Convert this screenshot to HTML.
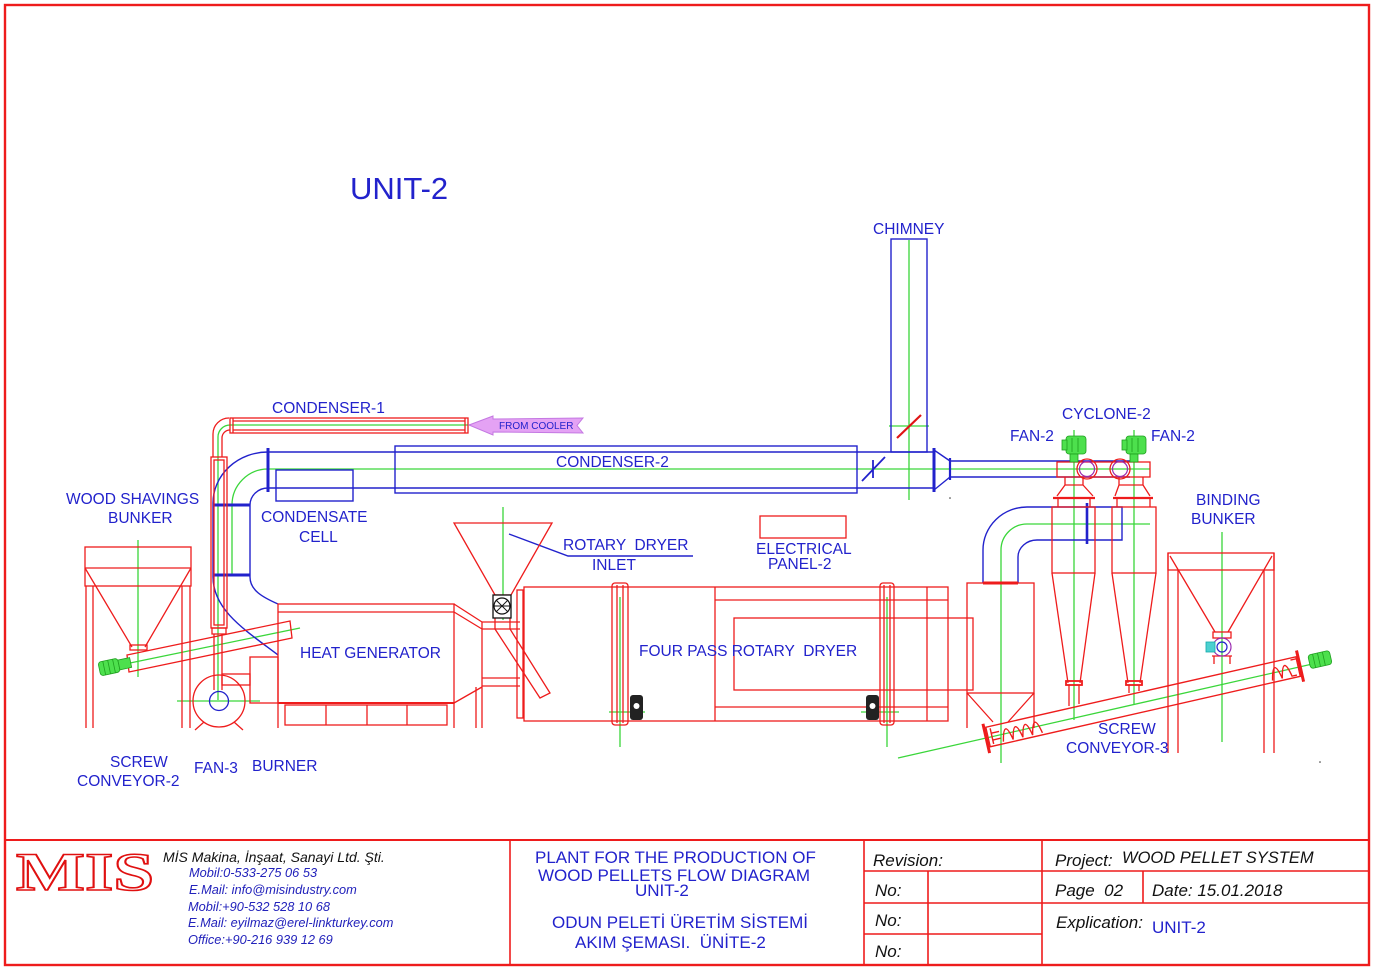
<!DOCTYPE html>
<html><head><meta charset="utf-8"><style>
html,body{margin:0;padding:0;background:#fff;}
svg{display:block;}
text{font-family:"Liberation Sans",Arial,sans-serif;white-space:pre;}
.l{fill:#2222cc;font-size:15.5px;}
.k{fill:#111;font-size:17px;font-style:italic;}
.b{fill:#2222cc;font-size:17px;}
.c{fill:#2222bb;font-size:12.8px;font-style:italic;}
</style></head><body>
<svg width="1376" height="968" viewBox="0 0 1376 968" xmlns="http://www.w3.org/2000/svg">
<rect width="1376" height="968" fill="#fff"/>

<!-- Frame & title block -->
<g fill="none" stroke="#ee1c1c" stroke-width="1.6">
 <rect x="5" y="5" width="1364" height="960" stroke-width="2.4"/>
 <line x1="5" y1="840" x2="1369" y2="840" stroke-width="2"/>
 <line x1="510" y1="840" x2="510" y2="965"/>
 <line x1="864" y1="840" x2="864" y2="965"/>
 <line x1="1042" y1="840" x2="1042" y2="965"/>
 <line x1="864" y1="871" x2="1369" y2="871"/>
 <line x1="864" y1="903" x2="1369" y2="903"/>
 <line x1="864" y1="934" x2="1042" y2="934"/>
 <line x1="928" y1="871" x2="928" y2="965"/>
 <line x1="1143" y1="871" x2="1143" y2="903"/>
</g>

<!-- Logo -->
<text x="16" y="890" textLength="138" lengthAdjust="spacingAndGlyphs" style="font-family:'Liberation Serif',serif;font-weight:bold;font-size:54px;fill:#fff;stroke:#e01010;stroke-width:1.6">MIS</text>

<text x="163" y="862" style="font-size:14px;font-style:italic;fill:#111">MİS Makina, İnşaat, Sanayi Ltd. Şti.</text>
<text class="c" x="189" y="877">Mobil:0-533-275 06 53</text>
<text class="c" x="189" y="894">E.Mail: info@misindustry.com</text>
<text class="c" x="188" y="911">Mobil:+90-532 528 10 68</text>
<text class="c" x="188" y="927">E.Mail: eyilmaz@erel-linkturkey.com</text>
<text class="c" x="188" y="944">Office:+90-216 939 12 69</text>

<text class="b" x="535" y="863">PLANT FOR THE PRODUCTION OF</text>
<text class="b" x="538" y="881">WOOD PELLETS FLOW DIAGRAM</text>
<text class="b" x="635" y="896">UNIT-2</text>
<text class="b" x="552" y="928">ODUN PELETİ ÜRETİM SİSTEMİ</text>
<text class="b" x="575" y="948">AKIM ŞEMASI.  ÜNİTE-2</text>

<text class="k" x="873" y="866">Revision:</text>
<text class="k" x="875" y="896">No:</text>
<text class="k" x="875" y="926">No:</text>
<text class="k" x="875" y="957">No:</text>
<text class="k" x="1055" y="866">Project:</text>
<text class="k" x="1122" y="863" style="font-size:16.5px">WOOD PELLET SYSTEM</text>
<text class="k" x="1055" y="896">Page  02</text>
<text class="k" x="1152" y="896">Date: 15.01.2018</text>
<text class="k" x="1056" y="928">Explication:</text>
<text class="b" x="1152" y="933">UNIT-2</text>

<!-- Green centerlines -->
<g fill="none" stroke="#3ad63a" stroke-width="1.3">
 <path d="M218,700 L218,437 A12,12 0 0 1 230,425 L470,425"/>
 <path d="M232,575 L232,505 A36,36 0 0 1 268,469 L1150,469"/>
 <path d="M909,240 L909,500 M889,426 L929,426"/>
 <path d="M1074,430 L1074,720 M1134,430 L1134,705"/>
 <path d="M1150,524 L1027,524 A26,26 0 0 0 1001,550 L1001,763"/>
 <path d="M138,540 L138,677"/>
 <path d="M130,663 L300,628"/>
 <path d="M177,701 L260,701"/>
 <path d="M503,507 L503,620"/>
 <path d="M620,597 L620,747 M887,597 L887,747 M609,712 L645,712 M861,712 L899,712"/>
 <path d="M898,758 L1330,660"/>
 <path d="M1222,532 L1222,742"/>
</g>

<!-- Blue ducts -->
<g fill="none" stroke="#2222cc" stroke-width="1.4">
 <rect x="891" y="239" width="36" height="213"/>
 <path d="M268,452 L934,452 M268,488 L934,488"/>
 <rect x="395" y="446" width="462" height="47"/>
 <rect x="276" y="470" width="77" height="31"/>
 <path d="M268,452 A55,51 0 0 0 213,503 L213,577 C213,610 245,630 278,655"/>
 <path d="M268,488 A18,17 0 0 0 250,505 L250,577 C250,590 262,597 278,604"/>
 <path d="M268,448 L268,492 M213,505 L250,505 M213,575 L250,575" stroke-width="3"/>
 <path d="M862,481 L885,457 M873,460 L873,478" stroke-width="1.8"/>
 <path d="M934,448 L934,492" stroke-width="3"/>
 <path d="M934,450 L950,461 M934,490 L950,477"/>
 <path d="M950,458 L950,480" stroke-width="2.2"/>
 <path d="M950,461 L1130,461 M950,477 L1130,477"/>
 <path d="M1052,507 L1122,507 L1122,540 L1052,540"/>
 <path d="M1087,503 L1087,544" stroke-width="2.6"/>
 <path d="M1052,507 L1027,507 A44,43 0 0 0 983,550 L983,583"/>
 <path d="M1052,540 L1037,540 A19,17 0 0 0 1018,557 L1018,583"/>
 <path d="M509,534 L568,556 L693,556"/>
</g>
<path d="M897,438 L921,415" stroke="#e01414" stroke-width="2.2"/>

<!-- Red equipment -->
<g fill="none" stroke="#ee1c1c" stroke-width="1.3">
 <!-- condenser-1 -->
 <rect x="230" y="418" width="238" height="15"/>
 <path d="M233,421 L465,421 M233,430 L465,430 M233,418 L233,433 M465,418 L465,433"/>
 <path d="M213,457 L213,434 A16,16 0 0 1 229,418"/>
 <path d="M222,457 L222,438 A8,8 0 0 1 230,430"/>
 <rect x="211" y="457" width="16" height="171"/>
 <rect x="214" y="460" width="10" height="165"/>
 <rect x="212" y="628" width="14" height="6"/>
 <path d="M214,634 L214,690 M222,634 L222,690"/>
 <!-- wood shavings bunker -->
 <rect x="85" y="547" width="106" height="39"/>
 <path d="M85,568 L191,568 M85,568 L132,647 M191,568 L145,647"/>
 <rect x="130" y="645" width="17" height="5"/>
 <path d="M86,586 L86,728 M93,586 L93,728 M182,586 L182,728 M190,586 L190,728"/>
 <!-- screw conveyor 2 -->
 <polygon points="127,655 290,621 292,638 129,672"/>
 <!-- fan-3 -->
 <circle cx="219" cy="701" r="26"/>
 <path d="M204,722 L195,730 M234,722 L243,730"/>
 <rect x="222" y="674" width="28" height="11"/>
 <rect x="250" y="657" width="28" height="46"/>
 <!-- heat generator -->
 <rect x="278" y="604" width="176" height="99"/>
 <path d="M278,612 L454,612"/>
 <path d="M454,604 L482,622 M454,612 L482,629 M454,703 L482,687"/>
 <path d="M482,622 L520,622 M482,629 L520,629 M482,678 L520,678 M482,686 L520,686"/>
 <path d="M482,622 L482,728 M476,687 L476,728 M278,703 L278,728 M454,703 L454,728"/>
 <rect x="285" y="705" width="162" height="20"/>
 <path d="M326,705 L326,725 M367,705 L367,725 M407,705 L407,725"/>
 <path d="M278,703 L454,703" stroke-width="2"/>
 <!-- inlet hopper & chute -->
 <polygon points="454,523 552,523 511,595 495,595"/>
 <path d="M495,618 L495,629 L540,698 L550,693 L510,629 L510,618"/>
 <!-- dryer -->
 <rect x="517" y="590" width="6" height="128"/>
 <rect x="524" y="587" width="424" height="134"/>
 <rect x="612" y="583" width="16" height="142" rx="3"/>
 <path d="M617,585 L617,723 M623,585 L623,723"/>
 <rect x="880" y="583" width="14" height="142" rx="3"/>
 <path d="M884,585 L884,723 M890,585 L890,723"/>
 <path d="M715,587 L715,721 M715,600 L948,600 M715,707 L948,707 M927,587 L927,721"/>
 <rect x="734" y="618" width="239" height="72"/>
 <rect x="760" y="516" width="86" height="22"/>
 <!-- filter box -->
 <rect x="967" y="583" width="67" height="110"/>
 <path d="M967,693 L993,722 M1034,693 L1008,722 M967,693 L967,728 M1034,693 L1034,728"/>
 <path d="M983,583 L1018,583" stroke-width="3"/>
 <!-- cyclone 1 -->
 <rect x="1052" y="507" width="43" height="66"/>
 <path d="M1052,573 L1068,683 M1095,573 L1080,683"/>
 <rect x="1066" y="681" width="16" height="4" stroke-width="1.8"/>
 <path d="M1069,685 L1069,706 M1079,685 L1079,704"/>
 <path d="M1065,477 L1065,485 L1083,485 L1083,477 M1065,485 L1057,496 M1083,485 L1093,496 M1058,498 L1058,507 M1090,498 L1090,507"/>
 <path d="M1053,498 L1095,498" stroke-width="2.2"/>
 <!-- cyclone 2 -->
 <rect x="1112" y="507" width="44" height="66"/>
 <path d="M1112,573 L1128,683 M1156,573 L1140,683"/>
 <rect x="1126" y="681" width="16" height="4" stroke-width="1.8"/>
 <path d="M1129,685 L1129,693 M1139,685 L1139,691"/>
 <path d="M1119,477 L1119,485 L1143,485 L1143,477 M1119,485 L1115,496 M1143,485 L1150,496 M1117,498 L1117,507 M1150,498 L1150,507"/>
 <path d="M1113,498 L1153,498" stroke-width="2.2"/>
 <!-- fan box -->
 <rect x="1057" y="462" width="93" height="15"/>
 <circle cx="1087" cy="469" r="10"/>
 <circle cx="1120" cy="469" r="10"/>
 <!-- binding bunker -->
 <rect x="1168" y="553" width="106" height="17"/>
 <path d="M1170,556 L1215,632 M1272,556 L1228,632"/>
 <rect x="1213" y="632" width="18" height="6"/>
 <path d="M1168,553 L1168,753 M1178,570 L1178,753 M1264,570 L1264,753 M1274,553 L1274,753"/>
 <path d="M1212,656 L1232,656 M1214,656 L1214,664 M1230,656 L1230,664"/>
</g>
<g fill="none" stroke="#9a2bb0" stroke-width="1.2">
 <circle cx="1087" cy="469" r="7.5"/>
 <circle cx="1120" cy="469" r="7.5"/>
 <circle cx="1222" cy="647" r="9"/>
</g>
<circle cx="1222" cy="647" r="5" fill="none" stroke="#2222cc" stroke-width="1.2"/>
<rect x="1206" y="642" width="9" height="10" fill="#4cd0d0" stroke="#1aa" stroke-width="0.8"/>
<circle cx="219" cy="701" r="9.5" fill="none" stroke="#2222cc" stroke-width="1.3"/>

<!-- screw conveyor 3 -->
<g transform="translate(988,737) rotate(-12.8)" fill="none" stroke="#ee1c1c" stroke-width="1.4">
 <rect x="0" y="-10" width="318" height="20"/>
 <path d="M-2,-14 L-2,16 M320,-16 L320,16" stroke-width="3"/>
 <path d="M4,-8 L4,8 M4,-3 L12,-3 M4,4 L12,4"/>
 <path d="M14,8 Q19,-16 24,8 Q29,-16 34,8 Q39,-16 44,8 Q49,-16 54,8"/>
 <path d="M290,8 Q295,-16 300,8 Q305,-16 310,8 L315,8 M312,-8 L318,-8"/>
</g>
<g transform="translate(1318,660) rotate(-12.8)">
 <rect x="-9" y="-7" width="22" height="14" rx="3" fill="#4de04d" stroke="#1f9f1f" stroke-width="0.8"/>
 <path d="M-4,-7 L-4,7 M1,-7 L1,7 M6,-7 L6,7" stroke="#1f9f1f" stroke-width="0.8"/>
</g>
<g transform="translate(114,666) rotate(-12)">
 <rect x="-15" y="-7" width="20" height="14" rx="3" fill="#4de04d" stroke="#1f9f1f" stroke-width="0.8"/>
 <rect x="5" y="-5" width="12" height="10" fill="#4de04d" stroke="#1f9f1f" stroke-width="0.8"/>
 <path d="M-10,-7 L-10,7 M-5,-7 L-5,7 M0,-7 L0,7" stroke="#1f9f1f" stroke-width="0.8"/>
</g>

<!-- fan-2 motors -->
<g fill="#4de04d" stroke="#1f9f1f" stroke-width="0.8">
 <rect x="1066" y="436" width="20" height="18" rx="3"/>
 <rect x="1062" y="440" width="5" height="10"/>
 <rect x="1070" y="454" width="8" height="8"/>
 <rect x="1126" y="436" width="20" height="18" rx="3"/>
 <rect x="1122" y="440" width="5" height="10"/>
 <rect x="1130" y="454" width="8" height="8"/>
</g>
<path d="M1072,438 L1072,452 M1078,438 L1078,452 M1132,438 L1132,452 M1138,438 L1138,452" stroke="#1f9f1f" stroke-width="0.8"/>

<!-- rotary valve -->
<rect x="493" y="595" width="18" height="23" fill="#fff" stroke="#111" stroke-width="1.3"/>
<circle cx="502" cy="606" r="8" fill="none" stroke="#111" stroke-width="1.2"/>
<path d="M494,606 L510,606 M496,600 L508,612 M508,600 L496,612" stroke="#111" stroke-width="0.9"/>

<!-- gear motors -->
<g fill="#222">
 <rect x="630" y="695" width="13" height="25" rx="3"/>
 <rect x="866" y="695" width="13" height="25" rx="3"/>
</g>
<circle cx="636.5" cy="706" r="3" fill="#fff"/>
<circle cx="872.5" cy="706" r="3" fill="#fff"/>

<!-- from cooler arrow -->
<path d="M469,425 L493,416 L493,419 L583,418 L577,425.5 L583,433 L493,432 L493,435 Z" fill="#e4a2f4" stroke="#c478e2" stroke-width="1"/>
<text x="499" y="429" style="font-size:10px;fill:#2222cc">FROM COOLER</text>

<circle cx="950" cy="498" r="0.8" fill="#333"/>
<circle cx="1320" cy="762" r="0.8" fill="#333"/>

<!-- Labels -->
<text x="350" y="199" style="font-size:31px;fill:#2222cc">UNIT-2</text>
<text class="l" x="873" y="234">CHIMNEY</text>
<text class="l" x="272" y="413">CONDENSER-1</text>
<text class="l" x="556" y="467">CONDENSER-2</text>
<text class="l" x="1062" y="419">CYCLONE-2</text>
<text class="l" x="1010" y="441">FAN-2</text>
<text class="l" x="1151" y="441">FAN-2</text>
<text class="l" x="66" y="504">WOOD SHAVINGS</text>
<text class="l" x="108" y="523">BUNKER</text>
<text class="l" x="261" y="522">CONDENSATE</text>
<text class="l" x="299" y="542">CELL</text>
<text class="l" x="563" y="550">ROTARY  DRYER</text>
<text class="l" x="592" y="570">INLET</text>
<text class="l" x="756" y="554">ELECTRICAL</text>
<text class="l" x="768" y="569">PANEL-2</text>
<text class="l" x="1196" y="505">BINDING</text>
<text class="l" x="1191" y="524">BUNKER</text>
<text class="l" x="300" y="658">HEAT GENERATOR</text>
<text class="l" x="639" y="656">FOUR PASS ROTARY  DRYER</text>
<text class="l" x="1098" y="734">SCREW</text>
<text class="l" x="1066" y="753">CONVEYOR-3</text>
<text class="l" x="110" y="767">SCREW</text>
<text class="l" x="77" y="786">CONVEYOR-2</text>
<text class="l" x="194" y="773">FAN-3</text>
<text class="l" x="252" y="771">BURNER</text>
</svg>
</body></html>
